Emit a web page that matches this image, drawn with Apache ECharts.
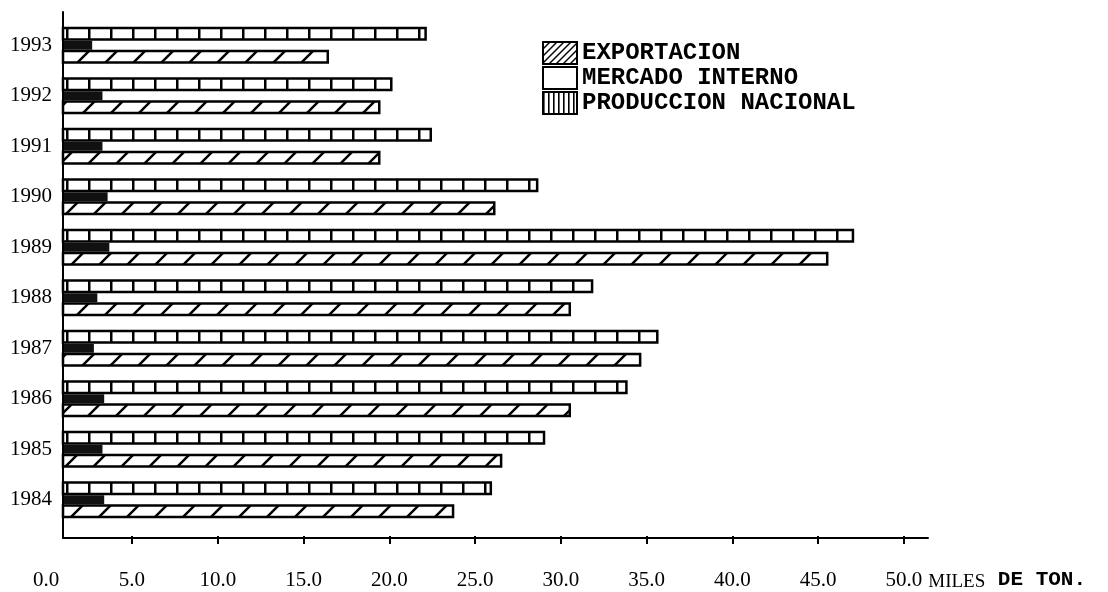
<!DOCTYPE html>
<html>
<head>
<meta charset="utf-8">
<script src="https://cdn.jsdelivr.net/npm/echarts/dist/echarts.min.js"></script>
<style>
  html, body { margin: 0; padding: 0; background: #fff; }
  #main { width: 1108px; height: 592px; }
</style>
</head>
<body>
<div id="main"></div>
<script>
var years = ['1984', '1985', '1986', '1987', '1988', '1989', '1990', '1991', '1992', '1993'];
var produccion = [26.0, 29.1, 33.9, 35.7, 31.9, 47.1, 28.7, 22.5, 20.2, 22.2];
var mercadoInterno = [3.4, 3.3, 3.4, 2.8, 3.0, 3.7, 3.6, 3.3, 3.3, 2.7];
var exportacion = [23.8, 26.6, 30.6, 34.7, 30.6, 45.6, 26.2, 19.5, 19.5, 16.5];
var tickValues = [5, 10, 15, 20, 25, 30, 35, 40, 45, 50];
var labelValues = [0, 5, 10, 15, 20, 25, 30, 35, 40, 45, 50];

// hatch patterns drawn on small canvases
function tile(w, h, draw) {
    var c = document.createElement('canvas');
    c.width = w;
    c.height = h;
    var ctx = c.getContext('2d');
    ctx.fillStyle = '#fff';
    ctx.fillRect(0, 0, w, h);
    ctx.strokeStyle = '#000';
    ctx.fillStyle = '#000';
    draw(ctx, w, h);
    return { image: c, repeat: 'repeat' };
}
function slashes(ctx, w, h) {
    for (var k = -1; k <= 1; k++) {
        ctx.beginPath();
        ctx.moveTo(k * w - 2, h + 2);
        ctx.lineTo(k * w + w + 2, -2);
        ctx.stroke();
    }
}
var cellPattern = tile(22, 4, function (ctx, w, h) { ctx.fillRect(0, 0, 2.5, h); });
var slashPattern = tile(28, 28, function (ctx, w, h) { ctx.lineWidth = 2.5; slashes(ctx, w, h); });
var legendSlash = tile(7, 7, function (ctx, w, h) { ctx.lineWidth = 1.4; slashes(ctx, w, h); });
var legendVert = tile(5, 4, function (ctx, w, h) { ctx.fillRect(0, 0, 1.6, h); });

var serif = 'Liberation Serif';
var mono = 'Liberation Mono';

var chart = echarts.init(document.getElementById('main'));

var option = {
    animation: false,
    backgroundColor: '#fff',
    legend: {
        orient: 'vertical',
        left: 537,
        top: 36,
        itemWidth: 34,
        itemHeight: 22,
        itemGap: 1,
        selectedMode: false,
        textStyle: { fontFamily: mono, fontSize: 24, fontWeight: 'bold', color: '#000' },
        data: [
            { name: 'EXPORTACION', icon: 'rect', itemStyle: { color: legendSlash, borderColor: '#000', borderWidth: 2 } },
            { name: 'MERCADO INTERNO', icon: 'rect', itemStyle: { color: '#fff', borderColor: '#000', borderWidth: 2 } },
            { name: 'PRODUCCION NACIONAL', icon: 'rect', itemStyle: { color: legendVert, borderColor: '#000', borderWidth: 2 } }
        ]
    },
    grid: [
        { left: 63, right: 180, top: 20, bottom: 67 },   // bars
        { left: 63, right: 180, top: 12, bottom: 54 },   // axis frame
        { left: 46.2, right: 180, top: 12, bottom: 54 }  // ticks and labels
    ],
    xAxis: [
        { type: 'value', gridIndex: 0, min: 1, max: 51.4, show: false },
        {
            type: 'value', gridIndex: 1, min: 1, max: 51.4, z: 10,
            axisLine: { show: true, onZero: false, lineStyle: { color: '#000', width: 2 } },
            axisTick: { show: false }, axisLabel: { show: false }, splitLine: { show: false }
        },
        {
            type: 'value', gridIndex: 2, min: 0, max: 51.4,
            axisLine: { show: false },
            axisTick: { show: true, customValues: tickValues, length: 8, lineStyle: { color: '#000', width: 2 } },
            axisLabel: {
                customValues: labelValues,
                margin: 34,
                fontFamily: serif,
                fontSize: 21,
                color: '#000',
                formatter: function (v) { return v.toFixed(1); }
            },
            splitLine: { show: false },
            name: '{a|MILES}{b| DE TON.}',
            nameLocation: 'end',
            nameGap: -5,
            nameTextStyle: {
                align: 'left',
                verticalAlign: 'top',
                padding: [33, 0, 0, 0],
                rich: {
                    a: { fontFamily: serif, fontSize: 19, color: '#000' },
                    b: { fontFamily: mono, fontSize: 21, fontWeight: 'bold', color: '#000', padding: [0, 0, 6, 0] }
                }
            }
        }
    ],
    yAxis: [
        {
            type: 'category', gridIndex: 0, data: years,
            axisLine: { show: false }, axisTick: { show: false },
            axisLabel: { margin: 11, fontFamily: serif, fontSize: 21, color: '#000' }
        },
        {
            type: 'value', gridIndex: 1, z: 10,
            axisLine: { show: true, onZero: false, lineStyle: { color: '#000', width: 2 } },
            axisTick: { show: false }, axisLabel: { show: false }, splitLine: { show: false }
        },
        { type: 'value', gridIndex: 2, show: false, splitLine: { show: false } }
    ],
    series: [
        {
            name: 'PRODUCCION NACIONAL',
            type: 'bar',
            xAxisIndex: 0, yAxisIndex: 0,
            barWidth: 14,
            barGap: '0%',
            itemStyle: { color: cellPattern, borderColor: '#000', borderWidth: 2.5 },
            emphasis: { disabled: true },
            data: produccion
        },
        {
            name: 'MERCADO INTERNO',
            type: 'bar',
            xAxisIndex: 0, yAxisIndex: 0,
            barWidth: 9,
            barGap: '0%',
            itemStyle: { color: '#111' },
            emphasis: { disabled: true },
            data: mercadoInterno
        },
        {
            name: 'EXPORTACION',
            type: 'bar',
            xAxisIndex: 0, yAxisIndex: 0,
            barWidth: 14,
            barGap: '0%',
            itemStyle: { color: slashPattern, borderColor: '#000', borderWidth: 2.5 },
            emphasis: { disabled: true },
            data: exportacion
        }
    ]
};
chart.setOption(option);
</script>
</body>
</html>
